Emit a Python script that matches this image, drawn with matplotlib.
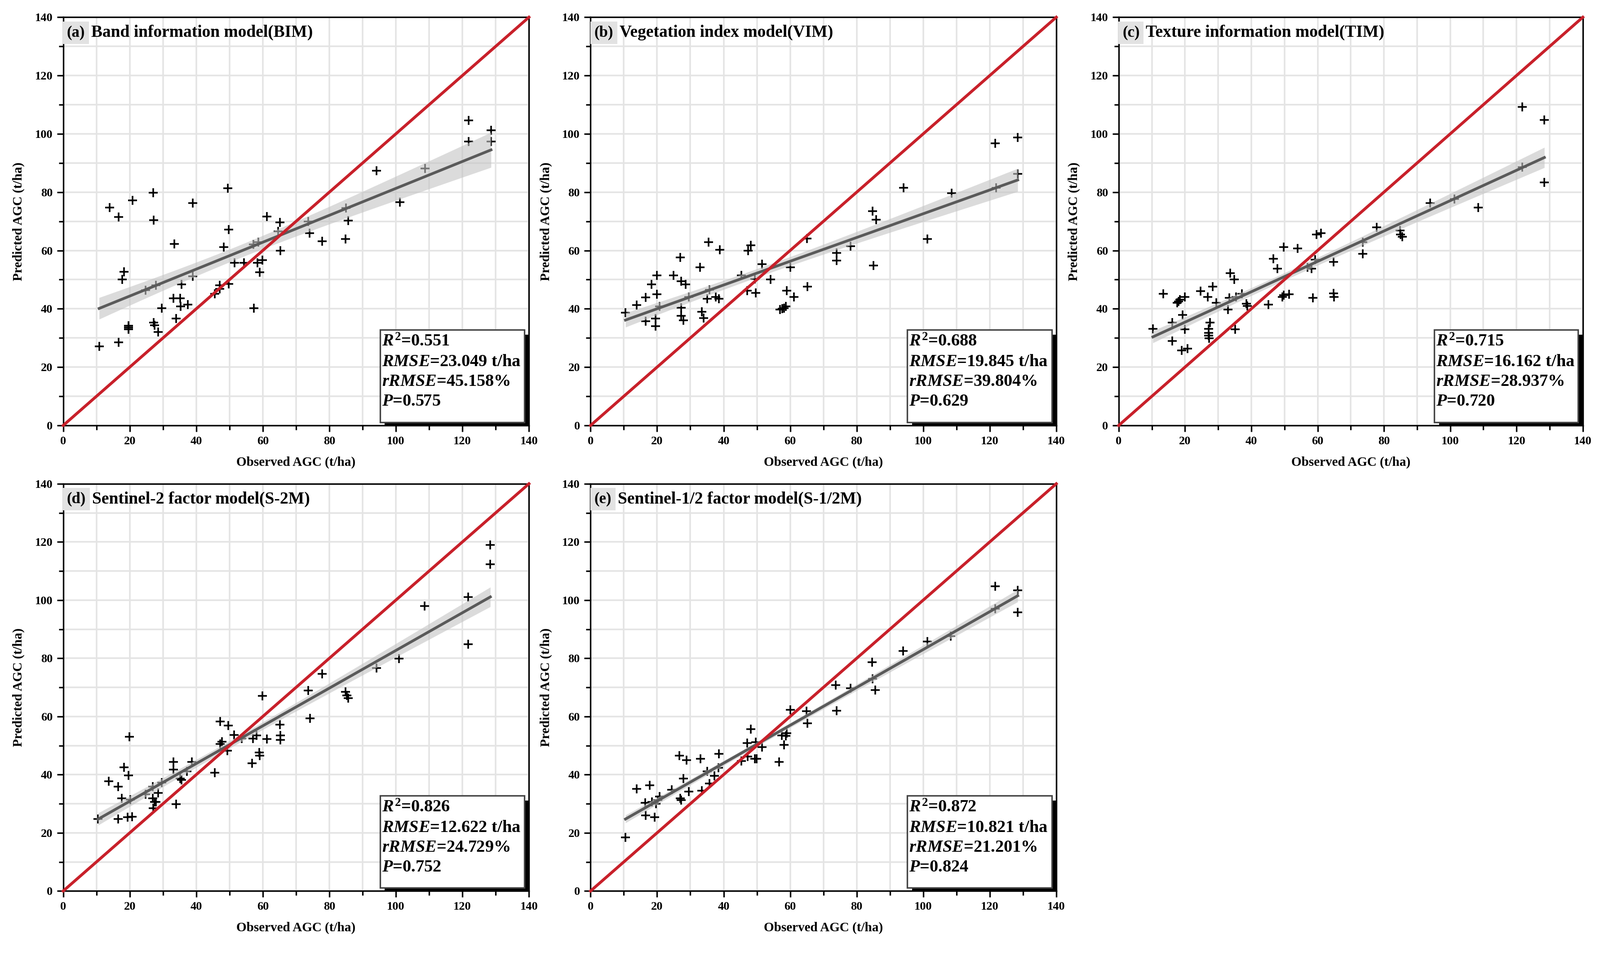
import numpy as np
import matplotlib
matplotlib.use("Agg")
import matplotlib.pyplot as plt
from matplotlib.patches import Rectangle

plt.rcParams["font.family"] = ["Liberation Serif", "DejaVu Serif"]
plt.rcParams["font.weight"] = "bold"
plt.rcParams["axes.labelweight"] = "bold"
plt.rcParams["mathtext.fontset"] = "custom"
plt.rcParams["mathtext.rm"] = "Liberation Serif:bold"
plt.rcParams["mathtext.it"] = "Liberation Serif:italic:bold"
plt.rcParams["mathtext.bf"] = "Liberation Serif:bold"

# (a) band information model
obs_a = [10.8, 13.9, 16.7, 16.7, 17.8, 18.3, 19.6, 19.6, 19.6, 20.9, 24.8, 27.1, 27.2, 27.2, 27.4,
         27.9, 28.6, 29.6, 33.1, 33.4, 33.9, 35.1, 35.3, 35.6, 37.4, 38.9, 38.9, 45.6, 47.0, 47.0,
         48.2, 49.5, 49.8, 49.8, 51.5, 54.3, 57.2, 57.3, 58.4, 58.6, 59.1, 59.9, 61.2, 64.6, 65.1,
         65.3, 73.7, 74.1, 77.8, 84.9, 85.0, 85.7, 94.2, 101.2, 108.8, 121.9, 121.9, 128.6, 128.6]
pred_a = [27.1, 74.7, 71.5, 28.5, 50.0, 52.7, 33.6, 32.9, 34.2, 77.2, 46.4, 79.8, 70.4, 35.3, 34.4,
          48.1, 32.0, 40.2, 43.6, 62.3, 36.6, 43.6, 40.8, 48.4, 41.5, 51.1, 76.3, 45.2, 48.1, 46.8,
          61.2, 81.4, 67.2, 48.6, 55.8, 55.7, 62.1, 40.2, 55.7, 62.8, 52.6, 56.7, 71.7, 66.5, 69.6,
          60.0, 70.0, 66.0, 63.1, 63.9, 74.6, 70.2, 87.3, 76.5, 88.2, 104.6, 97.3, 101.2, 97.3]

# (b) vegetation index model
obs_b = [10.5, 13.8, 16.6, 16.6, 18.3, 19.5, 19.5, 20.0, 20.0, 20.7, 24.9, 26.9, 27.2, 27.2, 27.2,
         27.9, 28.6, 29.5, 32.9, 33.4, 34.0, 35.0, 35.5, 35.7, 37.6, 38.6, 38.9, 45.3, 47.1, 47.4,
         48.2, 49.4, 49.7, 51.5, 54.1, 57.0, 57.6, 58.2, 58.7, 59.0, 60.0, 61.1, 65.1, 65.2, 73.9,
         74.0, 78.1, 84.8, 85.0, 85.8, 94.1, 101.3, 108.6, 121.9, 121.7, 128.4, 128.4]
pred_b = [38.7, 41.3, 43.9, 35.7, 48.3, 36.6, 34.1, 51.5, 45.0, 40.8, 51.5, 57.6, 49.4, 40.4, 37.6,
          36.0, 48.3, 44.1, 54.2, 38.9, 36.8, 43.4, 62.8, 46.5, 44.1, 43.4, 60.2, 51.5, 46.2, 59.9,
          61.8, 50.2, 45.5, 55.3, 50.0, 39.7, 40.0, 40.2, 40.8, 46.2, 54.2, 44.1, 64.1, 47.6, 59.1,
          56.5, 61.4, 73.5, 54.9, 70.5, 81.5, 63.9, 79.6, 81.5, 96.7, 98.8, 86.2]

# (c) texture information model
obs_c = [10.3, 13.4, 16.2, 16.2, 17.6, 18.1, 18.5, 19.0, 19.3, 19.9, 19.9, 20.7, 24.7, 26.8, 27.1,
         27.1, 27.3, 27.1, 27.6, 28.4, 29.4, 33.0, 33.3, 33.6, 34.8, 35.1, 35.4, 37.2, 38.5, 38.8,
         45.2, 46.7, 47.9, 49.3, 49.8, 49.8, 51.4, 54.0, 56.9, 58.1, 58.6, 59.2, 59.7, 61.0, 64.8,
         64.8, 65.0, 73.6, 73.6, 77.8, 84.8, 85.0, 85.5, 94.0, 101.2, 108.5, 121.7, 121.7, 128.4,
         128.4]
pred_c = [33.1, 45.2, 35.3, 28.9, 42.1, 42.5, 43.1, 25.8, 37.9, 44.1, 32.9, 26.4, 46.0, 44.1, 31.8,
          30.8, 29.9, 33.1, 35.2, 47.6, 42.1, 39.7, 43.7, 52.3, 50.0, 32.9, 44.1, 45.2, 41.8, 41.0,
          41.5, 57.2, 53.7, 44.1, 61.2, 44.6, 45.0, 60.7, 54.2, 53.7, 43.7, 56.8, 65.4, 66.0, 56.0,
          45.3, 44.1, 58.8, 62.8, 67.9, 66.8, 65.4, 64.7, 76.3, 77.7, 74.7, 109.3, 88.6, 104.8,
          83.3]

# (d) Sentinel-2 factor model
obs_d = [10.5, 13.7, 16.5, 16.5, 17.6, 18.3, 19.4, 19.6, 19.9, 20.1, 20.7, 24.8, 26.9, 26.9, 27.1,
         27.4, 27.9, 28.6, 29.6, 33.1, 33.1, 33.9, 35.1, 35.6, 37.2, 38.7, 45.5, 47.2, 47.2, 47.7,
         49.6, 49.4, 51.3, 53.7, 56.8, 57.1, 58.1, 58.9, 59.1, 59.9, 61.2, 65.1, 65.3, 65.3, 73.7,
         74.2, 77.8, 84.9, 85.2, 85.7, 94.2, 101.0, 108.7, 121.7, 121.7, 128.4, 128.4]
pred_d = [24.7, 37.7, 35.9, 24.7, 31.9, 42.5, 25.3, 39.8, 53.0, 31.4, 25.5, 33.2, 35.9, 31.9, 28.4,
          30.6, 30.6, 33.7, 37.2, 44.4, 41.8, 29.8, 38.7, 38.2, 41.2, 44.4, 40.7, 58.3, 50.5, 51.3,
          56.9, 48.2, 53.7, 52.4, 43.9, 52.4, 53.5, 47.6, 46.6, 67.1, 52.2, 57.2, 53.5, 51.9, 68.9,
          59.3, 74.6, 68.4, 67.3, 66.3, 76.6, 79.9, 98.0, 101.1, 84.9, 119.0, 112.3]

# (e) Sentinel-1/2 factor model
obs_e = [10.5, 13.8, 16.4, 16.6, 17.8, 18.5, 19.2, 19.7, 20.2, 20.7, 24.4, 26.7, 26.9, 27.2, 27.9,
         28.8, 29.5, 33.1, 33.4, 35.0, 35.7, 37.2, 38.6, 38.4, 45.3, 47.1, 47.2, 48.2, 49.4, 49.7,
         49.9, 51.5, 56.7, 57.5, 58.2, 58.7, 59.0, 60.0, 64.9, 65.2, 73.7, 74.0, 78.1, 84.7, 84.8,
         85.6, 94.0, 101.2, 108.3, 121.7, 121.7, 128.4, 128.4]
pred_e = [18.5, 35.1, 30.3, 26.0, 36.4, 30.6, 25.3, 30.0, 31.3, 32.4, 34.8, 46.6, 31.9, 31.3, 38.6,
          45.0, 34.1, 45.5, 34.5, 41.2, 37.0, 39.6, 47.1, 42.3, 44.7, 50.8, 46.2, 55.6, 45.5, 51.1,
          45.5, 49.4, 44.4, 53.5, 50.3, 53.3, 54.3, 62.3, 61.8, 57.7, 70.7, 62.0, 69.7, 78.7, 72.9,
          69.1, 82.5, 85.7, 87.6, 104.8, 97.0, 103.3, 95.8]

labels = ["(a)", "(b)", "(c)", "(d)", "(e)"]
titles = ["Band information model(BIM)", "Vegetation index model(VIM)",
          "Texture information model(TIM)", "Sentinel-2 factor model(S-2M)",
          "Sentinel-1/2 factor model(S-1/2M)"]
r2 = ["0.551", "0.688", "0.715", "0.826", "0.872"]
rmse = ["23.049", "19.845", "16.162", "12.622", "10.821"]
rrmse = ["45.158", "39.804", "28.937", "24.729", "21.201"]
pval = ["0.575", "0.629", "0.720", "0.752", "0.824"]

observed = [obs_a, obs_b, obs_c, obs_d, obs_e]
predicted = [pred_a, pred_b, pred_c, pred_d, pred_e]


def panel(ax, obs, pred, i):
    obs = np.asarray(obs, float)
    pred = np.asarray(pred, float)
    ax.set_xlim(0, 140)
    ax.set_ylim(0, 140)
    ax.set_xticks(np.arange(0, 141, 20))
    ax.set_yticks(np.arange(0, 141, 20))
    ax.set_xticks(np.arange(0, 141, 10), minor=True)
    ax.set_yticks(np.arange(0, 141, 10), minor=True)
    ax.grid(True, which="both", color="#e4e4e4", lw=1.3)
    ax.set_axisbelow(True)
    ax.tick_params(which="major", direction="out", length=5, width=1.2, labelsize=9.5)
    ax.tick_params(which="minor", direction="out", length=3.5, width=1.2)
    for s in ax.spines.values():
        s.set_linewidth(1.2)

    ax.plot(obs, pred, "+", color="k", ms=7, mew=1.3, zorder=2)

    # linear fit with confidence band
    k, b = np.polyfit(obs, pred, 1)
    xs = np.linspace(obs.min(), obs.max(), 100)
    yf = k * xs + b
    n = len(obs)
    s = np.sqrt(np.sum((pred - (k * obs + b)) ** 2) / (n - 2))
    se = s * np.sqrt(1 / n + (xs - obs.mean()) ** 2 / np.sum((obs - obs.mean()) ** 2))
    ax.fill_between(xs, yf - 1.3 * se, yf + 1.3 * se, color="#c4c4c4", alpha=0.6,
                    lw=0, zorder=3)
    ax.plot(xs, yf, color="#5a5a5a", lw=2.2, zorder=4)
    ax.plot([0, 140], [0, 140], color="#c8202a", lw=2.3, zorder=5, clip_on=False)

    ax.set_xlabel("Observed AGC (t/ha)", fontsize=10.5, labelpad=8)
    ax.set_ylabel("Predicted AGC (t/ha)", fontsize=10.5, labelpad=8)

    lbl = ax.text(0.008, 0.962, labels[i], transform=ax.transAxes, fontsize=12.5,
                  va="center", ha="left", zorder=8,
                  bbox=dict(boxstyle="square,pad=0.25", fc="#e2e2e2", ec="none"))
    ax.annotate(titles[i], xy=(1, 0.5), xycoords=lbl, xytext=(5, 0),
                textcoords="offset points", va="center", ha="left", fontsize=13.5, zorder=8)

    # stats box with shadow
    ax.add_patch(Rectangle((0.69, 0.0), 0.31, 0.222, transform=ax.transAxes, fc="k",
                           ec="none", zorder=6, clip_on=False))
    ax.add_patch(Rectangle((0.68, 0.008), 0.31, 0.226, transform=ax.transAxes, fc="white",
                           ec="#444444", lw=1.2, zorder=7, clip_on=False))
    txt = "\n".join([f"$R^2$={r2[i]}", f"$RMSE$={rmse[i]} t/ha",
                     f"$rRMSE$={rrmse[i]}%", f"$P$={pval[i]}"])
    ax.text(0.684, 0.224, txt, transform=ax.transAxes, va="top", ha="left",
            fontsize=13.8, linespacing=1.34, zorder=8)


fig = plt.figure(figsize=(17.81, 10.64), dpi=200)
positions = [[0.0395, 0.555, 0.291, 0.427],
             [0.369, 0.555, 0.291, 0.427],
             [0.699, 0.555, 0.290, 0.427],
             [0.0395, 0.068, 0.291, 0.426],
             [0.369, 0.068, 0.291, 0.426]]
for i, pos in enumerate(positions):
    ax = fig.add_axes(pos)
    panel(ax, observed[i], predicted[i], i)

fig.savefig("out.png", dpi=200)
